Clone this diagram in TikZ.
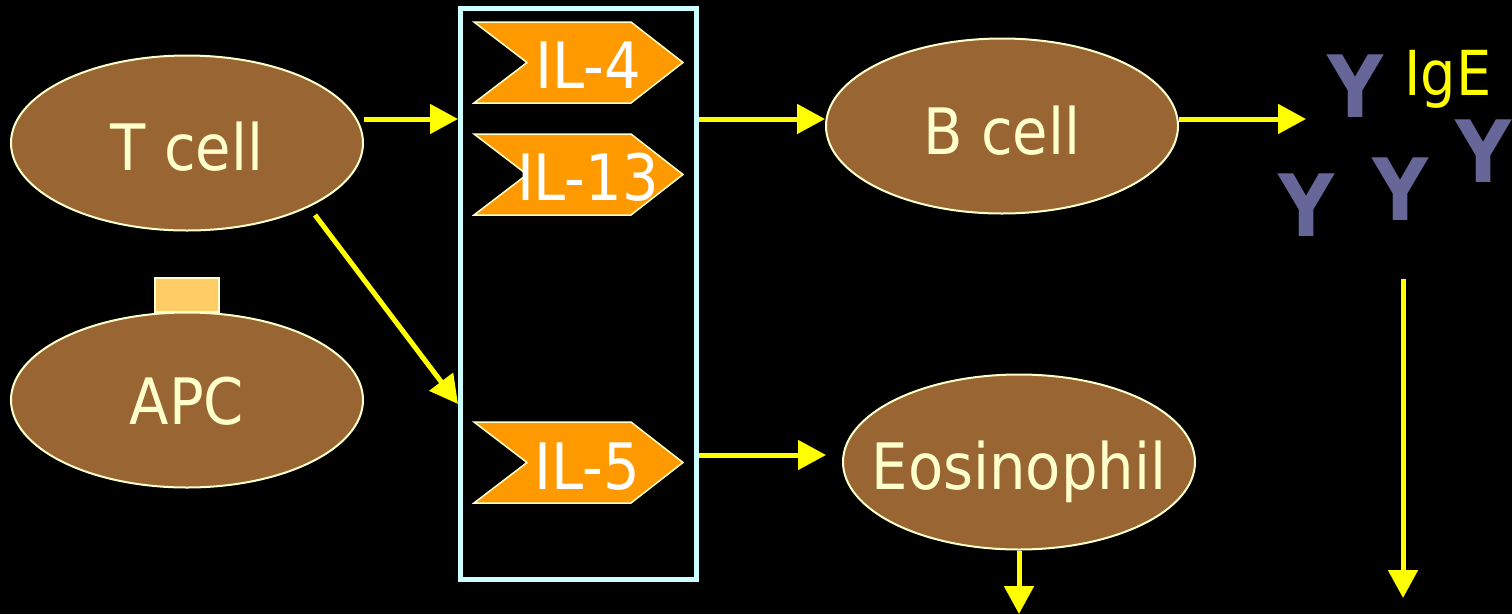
\documentclass[tikz,border=0pt]{standalone}
\usepackage{fontspec}
\setmainfont{DejaVu Sans Condensed}
\usetikzlibrary{arrows.meta,calc,shapes.geometric}
\definecolor{cellbrown}{HTML}{996633}
\definecolor{cream}{HTML}{FFFFCC}
\definecolor{ilorange}{HTML}{FF9900}
\definecolor{boxcyan}{HTML}{CCFFFF}
\definecolor{abblue}{HTML}{666699}
\definecolor{arryellow}{HTML}{FFFF00}
\definecolor{mhc}{HTML}{FFCC66}
\begin{document}
\begin{tikzpicture}[x=1pt,y=-1pt,
  cell/.style={ellipse,fill=cellbrown,draw=cream,line width=2pt,minimum width=352pt,minimum height=175pt,inner sep=0pt},
  celltext/.style={anchor=base,text=cream,font=\fontsize{64}{70}\selectfont,inner sep=0pt},
  iltext/.style={anchor=base,text=white,font=\fontsize{64}{70}\selectfont,inner sep=0pt},
  ab/.style={anchor=base,text=abblue,font=\fontsize{86}{90}\selectfont\bfseries,inner sep=0pt},
  arr/.style={draw=arryellow,line width=5pt,-{Triangle[length=28pt,width=29pt]}},
  ilshape/.pic={\path[fill=ilorange,draw=cream,line width=1.5pt] (0,0) -- (157,0) -- (209,40.5) -- (157,81) -- (0,81) -- (53,40.5) -- cycle;}
]
\fill[black] (0,0) rectangle (1512,614);
\useasboundingbox (0,0) rectangle (1512,614);

% cells
\node[cell] (tcell) at (187,143) {};
\node[celltext] (tcelltext) at (187,170) {T cell};
\node[fill=mhc,draw=cream,line width=1.5pt,minimum width=64pt,minimum height=34pt,inner sep=0pt] (mhcbox) at (187,295) {};
\node[cell] (apc) at (187,400) {};
\node[celltext] (apctext) at (187,424) {APC};
\node[cell] (bcell) at (1002,126) {};
\node[celltext] (bcelltext) at (1002,154) {B cell};
\node[cell] (eos) at (1019,462) {};
\node[celltext] (eostext) at (1019,489) {Eosinophil};

% cytokine box
\node[draw=boxcyan,line width=5pt,minimum width=236pt,minimum height=571pt,inner sep=0pt] (box) at (578.5,294) {};
\pic at (474,22) {ilshape};
\node[iltext] (il4) at (588,88) {IL-4};
\pic at (474,134) {ilshape};
\node[iltext] (il13) at (588,200) {IL-13};
\pic at (474,422) {ilshape};
\node[iltext] (il5) at (587,489) {IL-5};

% antibodies
\node[ab] (y1) at (1355,117) {Y};
\node[ab] (y2) at (1306,236) {Y};
\node[ab] (y3) at (1400,220) {Y};
\node[ab] (y4) at (1483,182) {Y};
\node[anchor=base,text=arryellow,font=\fontsize{62}{70}\selectfont,inner sep=0pt] (ige) at (1448,95) {IgE};

% connectors
\coordinate (t1) at ([yshift=24pt]tcell.east);
\coordinate (t2) at ([shift={(128,72)}]tcell.center);
\coordinate (e1) at (826,455);
\coordinate (igein) at (1306,119);
\coordinate (igetop) at (1403,279);
\coordinate (igebot) at (1403,598);
\draw[arr] (t1) -- (t1 -| box.west);
\draw[arr] (t2) -- (box.west |- 0,404);
\draw[arr] (box.east |- t1) -- (bcell.west |- t1);
\draw[arr] (box.east |- e1) -- (e1);
\draw[arr] (bcell.east |- igein) -- (igein);
\draw[arr] (igetop) -- (igebot);
\draw[arr] (eos.south) -- (eos.south |- 0,614);
\end{tikzpicture}
\end{document}
